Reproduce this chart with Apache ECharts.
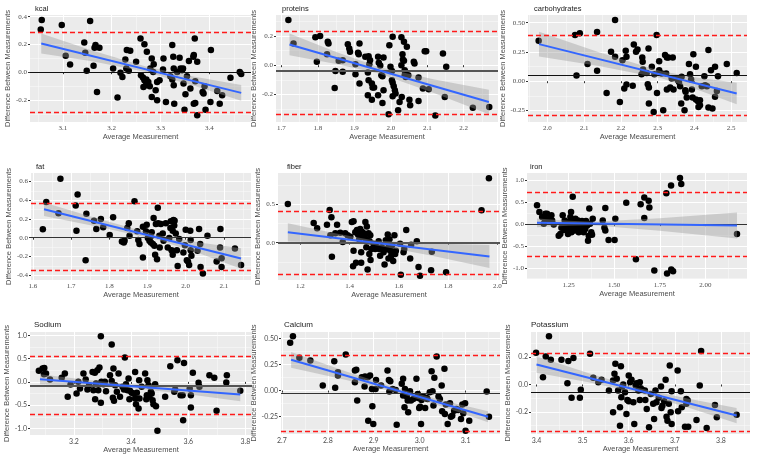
<!DOCTYPE html>
<html>
<head>
<meta charset="utf-8">
<script src="https://cdn.jsdelivr.net/npm/echarts@6/dist/echarts.min.js"></script>
<style>
  html, body { margin: 0; padding: 0; background: #fff; }
  #chart { width: 759px; height: 463px; }
</style>
</head>
<body>
<div id="chart"></div>
<script>
// panel titles
const titles = ['kcal', 'proteins', 'carbohydrates', 'fat', 'fiber', 'iron', 'Sodium', 'Calcium', 'Potassium']

// points: [average, difference]
const kcalPts = [[3.057,0.376],[3.055,0.308],[3.098,0.340],[3.156,0.369],[3.144,0.214],[3.146,0.140],[3.106,0.118],[3.115,0.055],[3.149,0.010],[3.167,0.195],[3.165,0.176],[3.175,0.176],[3.163,0.046],[3.170,-0.142],[3.203,0.027],[3.212,-0.183],[3.218,-0.005],[3.222,-0.034],[3.228,0.092],[3.231,0.159],[3.238,0.154],[3.230,0.027],[3.235,0.010],[3.250,0.075],[3.259,0.243],[3.267,0.202],[3.272,0.147],[3.282,0.099],[3.286,0.058],[3.279,0.027],[3.285,0.002],[3.260,-0.022],[3.264,-0.039],[3.267,-0.058],[3.271,-0.053],[3.275,-0.070],[3.265,-0.106],[3.270,-0.094],[3.278,-0.101],[3.282,-0.178],[3.293,-0.202],[3.290,-0.130],[3.293,-0.070],[3.298,-0.058],[3.305,0.019],[3.306,0.099],[3.311,-0.214],[3.320,-0.029],[3.324,-0.053],[3.324,0.195],[3.326,0.111],[3.327,0.027],[3.327,-0.094],[3.328,-0.227],[3.334,0.002],[3.339,0.104],[3.341,0.027],[3.344,0.014],[3.347,-0.082],[3.346,0.027],[3.351,-0.159],[3.349,-0.270],[3.354,-0.029],[3.358,0.080],[3.361,-0.118],[3.367,0.111],[3.368,0.123],[3.370,0.243],[3.375,0.075],[3.371,-0.065],[3.368,-0.227],[3.371,-0.222],[3.375,-0.311],[3.386,-0.142],[3.390,-0.101],[3.392,-0.270],[3.402,-0.214],[3.403,0.159],[3.416,-0.135],[3.421,-0.227],[3.426,-0.166],[3.443,-0.041],[3.462,0.002],[3.465,-0.014],[3.388,-0.154]]
const proteinsPts = [[1.719,0.307],[1.733,0.148],[1.797,0.023],[1.793,0.189],[1.806,0.198],[1.827,0.159],[1.829,0.148],[1.825,0.075],[1.848,-0.039],[1.857,0.030],[1.868,0.034],[1.868,-0.045],[1.846,-0.155],[1.882,0.143],[1.886,0.114],[1.888,0.091],[1.914,0.148],[1.910,0.084],[1.912,0.075],[1.903,0.007],[1.903,-0.061],[1.914,-0.125],[1.930,0.057],[1.939,0.061],[1.943,0.034],[1.941,0.007],[1.937,-0.050],[1.939,-0.102],[1.948,-0.125],[1.950,-0.152],[1.954,-0.152],[1.937,-0.205],[1.948,-0.234],[1.965,0.057],[1.967,0.016],[1.971,-0.002],[1.980,0.052],[1.974,-0.068],[1.977,-0.075],[1.980,-0.170],[1.977,-0.257],[1.965,-0.205],[1.994,-0.334],[1.996,0.136],[2.005,0.193],[1.999,-0.011],[2.003,-0.039],[2.003,-0.102],[2.005,-0.120],[2.008,-0.143],[2.011,-0.170],[2.005,-0.211],[2.013,-0.193],[2.020,-0.307],[2.024,-0.250],[2.029,0.189],[2.036,0.159],[2.032,0.075],[2.033,0.039],[2.036,0.030],[2.029,0.000],[2.038,-0.034],[2.039,-0.045],[2.038,-0.068],[2.041,-0.080],[2.030,-0.216],[2.044,0.125],[2.048,-0.068],[2.051,-0.234],[2.053,-0.273],[2.063,0.023],[2.065,0.011],[2.076,-0.084],[2.076,-0.243],[2.088,-0.159],[2.093,0.095],[2.097,0.095],[2.104,-0.164],[2.122,-0.341],[2.143,0.080],[2.152,-0.011],[2.148,-0.216],[2.225,-0.289],[2.270,-0.284]]
const carbsPts = [[1.976,0.346],[2.075,0.394],[2.088,0.409],[2.079,0.049],[2.109,0.146],[2.135,0.420],[2.135,0.089],[2.161,-0.100],[2.173,0.251],[2.184,0.523],[2.184,0.209],[2.197,-0.177],[2.204,0.180],[2.209,-0.063],[2.213,0.260],[2.215,0.209],[2.215,-0.029],[2.232,-0.040],[2.235,0.314],[2.241,0.251],[2.245,0.271],[2.256,0.060],[2.258,0.203],[2.259,0.166],[2.260,0.100],[2.270,0.071],[2.275,0.280],[2.273,-0.026],[2.276,-0.054],[2.276,-0.191],[2.284,0.123],[2.289,-0.263],[2.291,0.060],[2.297,0.394],[2.298,-0.100],[2.304,0.171],[2.304,0.094],[2.311,0.066],[2.315,-0.249],[2.320,0.223],[2.323,0.066],[2.325,0.203],[2.325,-0.071],[2.329,0.203],[2.334,-0.054],[2.338,0.023],[2.341,0.203],[2.343,-0.071],[2.352,0.023],[2.355,0.009],[2.358,-0.006],[2.361,-0.043],[2.364,-0.191],[2.365,0.037],[2.373,-0.249],[2.375,-0.077],[2.376,-0.091],[2.379,-0.140],[2.385,0.146],[2.388,0.060],[2.391,0.014],[2.393,-0.071],[2.395,-0.140],[2.397,0.231],[2.404,0.123],[2.404,-0.157],[2.409,-0.169],[2.411,-0.220],[2.415,-0.163],[2.415,-0.206],[2.420,-0.043],[2.427,0.043],[2.429,-0.034],[2.434,-0.043],[2.438,0.266],[2.438,-0.226],[2.445,0.094],[2.449,-0.234],[2.456,0.123],[2.456,-0.134],[2.461,-0.083],[2.464,0.043],[2.488,0.146],[2.515,0.071]]
const fatPts = [[1.626,0.089],[1.635,0.379],[1.667,0.261],[1.672,0.629],[1.712,0.343],[1.717,0.461],[1.714,0.075],[1.740,0.254],[1.738,-0.239],[1.760,0.182],[1.766,0.093],[1.778,0.200],[1.784,0.111],[1.801,0.029],[1.810,0.218],[1.833,-0.039],[1.838,-0.050],[1.840,-0.032],[1.847,0.104],[1.851,0.154],[1.853,0.021],[1.866,0.389],[1.873,0.068],[1.876,-0.025],[1.879,-0.068],[1.888,-0.211],[1.888,0.118],[1.896,0.068],[1.898,0.139],[1.901,-0.004],[1.905,-0.032],[1.908,0.011],[1.909,-0.050],[1.911,0.057],[1.914,-0.068],[1.916,0.211],[1.918,-0.086],[1.920,-0.182],[1.922,0.146],[1.925,-0.229],[1.927,0.318],[1.928,0.154],[1.931,0.021],[1.932,-0.104],[1.935,0.146],[1.940,0.046],[1.942,-0.032],[1.948,0.154],[1.953,-0.104],[1.957,-0.004],[1.960,0.104],[1.961,0.175],[1.963,-0.132],[1.966,-0.182],[1.968,0.189],[1.970,0.129],[1.966,0.075],[1.971,0.182],[1.974,0.046],[1.977,-0.132],[1.979,-0.300],[1.983,-0.014],[1.994,-0.157],[1.998,-0.079],[2.000,0.086],[2.003,-0.239],[2.006,-0.254],[2.009,-0.289],[2.012,0.075],[2.013,-0.132],[2.013,-0.025],[2.015,-0.193],[2.031,-0.139],[2.035,0.093],[2.038,-0.068],[2.039,-0.311],[2.045,-0.382],[2.057,0.021],[2.081,-0.254],[2.091,0.093],[2.090,-0.104],[2.094,-0.218],[2.094,-0.311],[2.129,-0.114],[2.145,-0.289]]
const fiberPts = [[1.149,0.500],[1.254,0.254],[1.268,0.188],[1.308,0.232],[1.319,0.424],[1.326,0.330],[1.328,-0.183],[1.322,0.098],[1.342,0.121],[1.349,0.232],[1.362,0.129],[1.372,0.009],[1.382,0.121],[1.392,0.098],[1.403,0.076],[1.409,0.268],[1.416,0.277],[1.414,-0.304],[1.416,-0.103],[1.423,0.134],[1.430,0.165],[1.426,-0.259],[1.434,0.107],[1.436,0.143],[1.439,0.045],[1.443,0.179],[1.447,-0.125],[1.447,-0.259],[1.450,0.143],[1.453,0.076],[1.457,0.121],[1.461,0.098],[1.464,0.268],[1.466,0.045],[1.468,-0.058],[1.470,0.210],[1.473,-0.348],[1.477,0.121],[1.480,-0.147],[1.481,0.018],[1.484,0.098],[1.485,-0.223],[1.488,-0.080],[1.497,-0.013],[1.504,-0.080],[1.507,-0.045],[1.518,0.018],[1.520,-0.080],[1.524,-0.170],[1.531,-0.058],[1.538,-0.125],[1.542,-0.281],[1.547,0.031],[1.551,-0.080],[1.555,0.107],[1.558,-0.013],[1.558,-0.205],[1.562,0.045],[1.565,-0.103],[1.569,-0.170],[1.572,-0.036],[1.574,-0.116],[1.577,-0.237],[1.582,0.098],[1.585,-0.147],[1.588,-0.103],[1.605,-0.013],[1.608,-0.415],[1.619,-0.125],[1.622,-0.080],[1.630,0.165],[1.646,-0.205],[1.650,-0.027],[1.673,0.018],[1.680,-0.313],[1.686,-0.429],[1.734,-0.116],[1.731,-0.357],[1.792,-0.384],[1.936,0.420],[1.966,0.835]]
const ironPts = [[1.076,0.434],[1.089,0.279],[1.104,0.163],[1.113,0.008],[1.122,0.240],[1.131,0.240],[1.118,0.124],[1.140,0.101],[1.149,0.124],[1.155,0.202],[1.159,0.085],[1.168,-0.008],[1.195,-0.264],[1.204,-0.225],[1.210,-0.085],[1.217,0.202],[1.223,-0.132],[1.228,0.085],[1.235,-0.031],[1.241,-0.147],[1.246,-0.225],[1.250,0.047],[1.254,-0.085],[1.259,0.163],[1.263,0.279],[1.265,-0.186],[1.268,-0.008],[1.272,0.628],[1.274,0.070],[1.277,-0.070],[1.283,-0.147],[1.287,0.124],[1.290,-0.008],[1.296,-0.085],[1.301,0.085],[1.305,-0.186],[1.309,-0.031],[1.314,0.047],[1.320,-0.132],[1.323,0.070],[1.327,-0.031],[1.332,-0.186],[1.338,0.008],[1.341,-0.109],[1.345,0.070],[1.351,-0.031],[1.356,-0.380],[1.360,-0.264],[1.363,0.357],[1.367,0.008],[1.374,-0.186],[1.378,-0.240],[1.382,0.124],[1.437,0.085],[1.446,-0.085],[1.451,-0.147],[1.451,0.372],[1.469,-0.364],[1.502,-0.364],[1.506,0.124],[1.566,0.488],[1.619,-0.806],[1.645,0.457],[1.665,0.612],[1.665,0.140],[1.689,0.535],[1.693,0.380],[1.720,-1.062],[1.786,0.705],[1.790,-1.132],[1.812,0.884],[1.813,-1.039],[1.823,-1.078],[1.861,1.054],[1.868,0.922],[2.174,-0.225]]
const sodiumPts = [[3.077,0.236],[3.090,0.286],[3.096,0.300],[3.102,0.179],[3.095,0.164],[3.116,0.050],[3.157,0.086],[3.168,0.179],[3.178,-0.321],[3.188,-0.057],[3.209,-0.250],[3.215,0.000],[3.221,-0.143],[3.233,0.179],[3.241,0.050],[3.247,-0.164],[3.253,-0.071],[3.265,0.214],[3.268,-0.179],[3.273,0.193],[3.277,-0.036],[3.282,0.250],[3.285,-0.179],[3.289,0.307],[3.274,-0.371],[3.294,0.979],[3.294,-0.450],[3.296,0.000],[3.303,-0.050],[3.308,0.000],[3.312,-0.200],[3.326,0.143],[3.332,0.800],[3.332,0.021],[3.336,-0.343],[3.338,0.286],[3.340,-0.407],[3.344,-0.071],[3.350,-0.214],[3.356,0.179],[3.361,-0.321],[3.370,-0.107],[3.375,-0.164],[3.378,0.521],[3.382,-0.050],[3.387,-0.179],[3.391,0.071],[3.394,-0.371],[3.396,-0.193],[3.402,-0.236],[3.408,-0.250],[3.414,0.214],[3.414,-0.357],[3.417,-0.479],[3.420,-0.236],[3.426,-0.571],[3.428,0.036],[3.429,-0.357],[3.437,-0.107],[3.449,0.179],[3.453,-0.371],[3.455,-0.286],[3.457,0.036],[3.461,-0.071],[3.464,-0.321],[3.469,-0.214],[3.472,-0.250],[3.475,-0.393],[3.478,-0.479],[3.484,-0.050],[3.487,-0.521],[3.492,-1.050],[3.519,-0.321],[3.537,0.336],[3.551,-0.214],[3.554,-0.164],[3.562,0.464],[3.573,-0.286],[3.580,-0.286],[3.582,-0.821],[3.585,0.407],[3.605,-0.143],[3.609,-0.286],[3.609,-0.550],[3.616,0.193],[3.636,-0.021],[3.639,-0.107],[3.674,0.143],[3.691,0.086],[3.699,-0.621],[3.733,-0.014],[3.735,0.143],[3.782,-0.193]]
const calciumPts = [[2.718,0.461],[2.724,0.523],[2.738,0.316],[2.762,0.290],[2.789,0.048],[2.814,0.284],[2.816,0.026],[2.822,0.177],[2.822,0.145],[2.839,0.348],[2.859,0.194],[2.862,0.200],[2.859,0.081],[2.864,-0.097],[2.874,0.129],[2.880,0.039],[2.881,0.135],[2.887,0.129],[2.892,0.145],[2.888,-0.290],[2.896,0.016],[2.897,-0.152],[2.899,-0.323],[2.904,0.016],[2.905,0.103],[2.916,0.048],[2.930,0.194],[2.933,0.103],[2.934,-0.010],[2.936,0.090],[2.941,0.016],[2.948,0.006],[2.950,-0.329],[2.961,0.065],[2.964,0.113],[2.964,-0.048],[2.967,-0.161],[2.968,0.016],[2.972,-0.058],[2.974,-0.097],[2.975,-0.210],[2.979,-0.006],[2.981,-0.097],[2.986,-0.081],[2.993,0.113],[2.996,-0.032],[2.997,-0.071],[2.999,-0.168],[3.001,-0.155],[3.003,-0.323],[3.004,-0.090],[3.006,-0.058],[3.010,-0.065],[3.012,-0.168],[3.015,-0.071],[3.017,-0.081],[3.022,-0.016],[3.026,0.187],[3.028,-0.006],[3.030,-0.145],[3.032,0.123],[3.037,0.329],[3.041,-0.058],[3.044,-0.081],[3.048,0.048],[3.049,-0.200],[3.054,0.210],[3.055,-0.226],[3.057,-0.135],[3.061,-0.323],[3.066,-0.123],[3.068,-0.252],[3.071,-0.242],[3.075,-0.194],[3.080,-0.177],[3.084,-0.187],[3.090,-0.274],[3.093,-0.135],[3.095,-0.219],[3.099,-0.123],[3.100,-0.387],[3.108,-0.290],[3.146,-0.010],[3.151,-0.252]]
const potassiumPts = [[3.399,0.233],[3.414,0.054],[3.420,0.206],[3.427,0.353],[3.431,0.182],[3.454,0.182],[3.467,0.010],[3.469,0.172],[3.480,0.194],[3.476,-0.098],[3.494,-0.098],[3.496,-0.039],[3.516,0.226],[3.523,0.049],[3.534,0.017],[3.541,0.034],[3.557,-0.044],[3.566,-0.204],[3.566,0.029],[3.569,0.079],[3.571,0.152],[3.574,0.042],[3.577,-0.044],[3.581,-0.167],[3.581,-0.302],[3.583,0.133],[3.584,-0.093],[3.586,-0.015],[3.588,0.000],[3.592,-0.056],[3.595,-0.216],[3.597,-0.113],[3.600,0.066],[3.600,-0.123],[3.603,0.017],[3.606,0.034],[3.610,-0.130],[3.612,-0.290],[3.615,-0.007],[3.617,0.010],[3.621,-0.044],[3.624,0.017],[3.624,-0.113],[3.626,-0.027],[3.629,-0.039],[3.635,-0.044],[3.636,-0.113],[3.639,-0.179],[3.644,-0.314],[3.648,-0.069],[3.653,-0.142],[3.655,-0.253],[3.658,-0.044],[3.660,-0.130],[3.665,-0.098],[3.670,-0.015],[3.671,-0.172],[3.673,-0.155],[3.677,-0.123],[3.680,0.034],[3.682,-0.236],[3.684,-0.265],[3.687,-0.142],[3.689,0.140],[3.691,-0.204],[3.693,-0.049],[3.693,-0.290],[3.706,0.103],[3.707,-0.196],[3.713,-0.049],[3.715,-0.167],[3.722,-0.309],[3.725,-0.106],[3.728,-0.118],[3.725,-0.142],[3.729,-0.309],[3.747,-0.260],[3.754,-0.007],[3.757,0.245],[3.769,-0.319],[3.787,-0.150],[3.791,-0.240],[3.834,-0.221]]

// mean difference and limits of agreement
const meanDiff = [0.0, -0.045, 0.049, 0.0, 0.0, 0.0, -0.086, -0.026, -0.056]
const upperLoA = [0.289, 0.234, 0.386, 0.368, 0.406, 0.729, 0.536, 0.339, 0.226]
const lowerLoA = [-0.292, -0.330, -0.286, -0.354, -0.415, -0.729, -0.700, -0.394, -0.344]

// fitted line (lm) and its confidence band
const fitX = [[3.056, 3.465], [1.722, 2.269], [1.977, 2.515], [1.629, 2.145], [1.149, 1.968], [1.076, 2.174], [3.081, 3.782], [2.720, 3.149], [3.400, 3.834]]
const fitY = [[0.207, -0.149], [0.141, -0.250], [0.317, -0.106], [0.304, -0.221], [0.134, -0.179], [0.031, -0.031], [0.057, -0.271], [0.297, -0.252], [0.147, -0.228]]
const bandX = [
  [3.056, 3.16, 3.27, 3.37, 3.465], [1.722, 1.85, 1.97, 2.12, 2.269], [1.977, 2.14, 2.31, 2.41, 2.515],
  [1.629, 1.78, 1.93, 2.04, 2.145], [1.149, 1.33, 1.5, 1.73, 1.968], [1.076, 1.25, 1.38, 1.75, 2.174],
  [3.081, 3.24, 3.4, 3.6, 3.782], [2.72, 2.84, 2.96, 3.06, 3.149], [3.4, 3.51, 3.62, 3.73, 3.834]
]
const bandLo = [
  [0.135, 0.078, 0.001, -0.099, -0.206], [0.067, 0.008, -0.058, -0.190, -0.333], [0.212, 0.130, 0.025, -0.075, -0.198],
  [0.232, 0.108, -0.027, -0.174, -0.331], [0.016, 0.002, -0.030, -0.166, -0.329], [-0.069, -0.035, -0.026, -0.151, -0.331],
  [-0.051, -0.081, -0.132, -0.268, -0.414], [0.221, 0.101, -0.030, -0.171, -0.305], [0.086, 0.018, -0.061, -0.171, -0.284]
]
const bandHi = [
  [0.279, 0.156, 0.041, -0.033, -0.092], [0.215, 0.090, -0.014, -0.098, -0.167], [0.422, 0.248, 0.085, 0.029, -0.014],
  [0.376, 0.192, 0.023, -0.054, -0.111], [0.252, 0.128, 0.030, -0.010, -0.029], [0.131, 0.077, 0.054, 0.137, 0.269],
  [0.165, 0.047, -0.052, -0.104, -0.128], [0.373, 0.185, 0.010, -0.105, -0.199], [0.208, 0.086, -0.025, -0.105, -0.172]
]

// axis limits and tick values
const xLim = [[3.033, 3.485], [1.685, 2.294], [1.947, 2.543], [1.595, 2.171], [1.109, 2.011], [1.021, 2.229], [3.046, 3.823], [2.698, 3.175], [3.388, 3.863]]
const yLim = [[-0.359, 0.412], [-0.386, 0.341], [-0.349, 0.566], [-0.45, 0.689], [-0.483, 0.903], [-1.256, 1.171], [-1.14, 1.07], [-0.419, 0.565], [-0.363, 0.385]]
const xTicks = [[3.1, 3.2, 3.3, 3.4], [1.7, 1.8, 1.9, 2.0, 2.1, 2.2], [2.0, 2.1, 2.2, 2.3, 2.4, 2.5], [1.6, 1.7, 1.8, 1.9, 2.0, 2.1], [1.2, 1.4, 1.6, 1.8, 2.0], [1.25, 1.5, 1.75, 2.0], [3.2, 3.4, 3.6, 3.8], [2.7, 2.8, 2.9, 3.0, 3.1], [3.4, 3.5, 3.6, 3.7, 3.8]]
const yTicks = [[-0.2, 0.0, 0.2, 0.4], [-0.2, 0.0, 0.2], [-0.25, 0.0, 0.25, 0.5], [-0.4, -0.2, 0.0, 0.2, 0.4, 0.6], [-0.5, 0.0, 0.5], [-1.0, -0.5, 0.0, 0.5, 1.0], [-1.0, -0.5, 0.0, 0.5, 1.0], [-0.25, 0.0, 0.25, 0.5], [-0.2, 0.0, 0.2]]
const xDec = [1, 1, 1, 1, 1, 2, 1, 1, 1]
const yDec = [1, 1, 2, 1, 1, 1, 1, 2, 1]

// layout: [left, top, width, height] of each panel, title position
const layout = [
  [30, 15, 221, 107], [276, 15, 222, 107], [528, 15, 219, 107],
  [31, 173, 220, 107], [278, 173, 222, 107], [527, 173, 220, 106],
  [30, 332, 222, 103], [281, 332, 219, 102], [531, 332, 219, 102]
]
const titlePos = [[30, 0], [277, 0], [529, 0], [31, 158], [282, 158], [525, 158], [29, 316], [279, 316], [526, 316]]
const meanStyle = [['#111', 1.2], ['#555', 2.2], ['#111', 1.2], ['#333', 1.2], ['#555', 2.2], ['#333', 1.2], ['#555', 2.2], ['#333', 1.2], ['#111', 1.2]]

const allPts = [kcalPts, proteinsPts, carbsPts, fatPts, fiberPts, ironPts, sodiumPts, calciumPts, potassiumPts]

function minorOf(ticks) {
  const step = ticks[1] - ticks[0]
  const out = [ticks[0] - step / 2]
  ticks.forEach(t => out.push(t + step / 2))
  return out
}

const grids = []
const xAxes = []
const yAxes = []
const series = []
const titleList = []

titles.forEach((name, i) => {
  const g = layout[i]
  const row3 = i >= 6
  const tickFont = row3 ? 'Lato' : 'Liberation Serif'
  const labelStyle = { fontSize: 7, color: '#4d4d4d', fontFamily: tickFont }
  const nameStyle = { fontSize: 7.5, color: '#4d4d4d', fontFamily: 'Liberation Sans' }

  grids.push({ left: g[0], top: g[1], width: g[2], height: g[3], show: true, backgroundColor: '#EBEBEB', borderWidth: 0 })
  titleList.push({ text: name, left: titlePos[i][0], top: titlePos[i][1], textStyle: { fontSize: row3 ? 8 : 7.5, fontWeight: 'normal', color: '#222', fontFamily: 'Liberation Sans' } })

  // major axes
  xAxes.push({
    gridIndex: i, type: 'value', min: xLim[i][0], max: xLim[i][1],
    name: 'Average Measurement', nameLocation: 'middle', nameGap: 11, nameMoveOverlap: false, nameTextStyle: nameStyle,
    axisLine: { show: false },
    axisTick: { show: true, length: 2, lineStyle: { color: '#333' }, customValues: xTicks[i] },
    axisLabel: { customValues: xTicks[i], formatter: v => v.toFixed(xDec[i]), margin: 3, ...labelStyle },
    splitLine: { show: true, lineStyle: { color: '#fff', width: 1 } }
  })
  yAxes.push({
    gridIndex: i, type: 'value', min: yLim[i][0], max: yLim[i][1],
    name: 'Difference Between Measurements', nameLocation: 'middle', nameGap: 5, nameTextStyle: nameStyle,
    axisLine: { show: false },
    axisTick: { show: true, length: 2, lineStyle: { color: '#333' }, customValues: yTicks[i] },
    axisLabel: { customValues: yTicks[i], formatter: v => v.toFixed(yDec[i]), margin: 3, ...labelStyle },
    splitLine: { show: true, lineStyle: { color: '#fff', width: 1 } }
  })
  // minor grid lines
  xAxes.push({
    gridIndex: i, type: 'value', min: xLim[i][0], max: xLim[i][1],
    axisLine: { show: false }, axisTick: { show: false, customValues: minorOf(xTicks[i]) },
    axisLabel: { show: false, customValues: minorOf(xTicks[i]) },
    splitLine: { show: true, lineStyle: { color: '#fafafa', width: 0.5 } }
  })
  yAxes.push({
    gridIndex: i, type: 'value', min: yLim[i][0], max: yLim[i][1],
    axisLine: { show: false }, axisTick: { show: false, customValues: minorOf(yTicks[i]) },
    axisLabel: { show: false, customValues: minorOf(yTicks[i]) },
    splitLine: { show: true, lineStyle: { color: '#fafafa', width: 0.5 } }
  })

  const ax = 2 * i
  series.push({
    type: 'scatter', xAxisIndex: ax, yAxisIndex: ax, data: allPts[i],
    symbolSize: 6.5, itemStyle: { color: '#000', opacity: 1 }, z: 2, silent: true
  })
  const bx = bandX[i], lo = bandLo[i], hi = bandHi[i]
  series.push({
    type: 'custom', xAxisIndex: ax, yAxisIndex: ax, z: 3, silent: true,
    data: [[bx[0], hi[0]]],
    renderItem: (params, api) => {
      const pts = []
      for (let k = 0; k < bx.length; k++) pts.push(api.coord([bx[k], hi[k]]))
      for (let k = bx.length - 1; k >= 0; k--) pts.push(api.coord([bx[k], lo[k]]))
      return { type: 'polygon', shape: { points: pts, smooth: 0 }, style: { fill: 'rgba(153,153,153,0.4)' } }
    }
  })
  series.push({
    type: 'line', xAxisIndex: ax, yAxisIndex: ax, data: [], z: 4, silent: true,
    markLine: {
      symbol: 'none', silent: true, label: { show: false }, animation: false,
      data: [
        { yAxis: meanDiff[i], lineStyle: { color: meanStyle[i][0], width: meanStyle[i][1], type: 'solid' } },
        { yAxis: upperLoA[i], lineStyle: { color: '#ff1a1a', width: 1.3, type: [5, 3] } },
        { yAxis: lowerLoA[i], lineStyle: { color: '#ff1a1a', width: 1.3, type: [5, 3] } }
      ]
    }
  })
  series.push({
    type: 'line', xAxisIndex: ax, yAxisIndex: ax, z: 5, silent: true,
    data: [[fitX[i][0], fitY[i][0]], [fitX[i][1], fitY[i][1]]],
    showSymbol: false, lineStyle: { color: '#3366FF', width: 2 }
  })
})

const myChart = echarts.init(document.getElementById('chart'))
myChart.setOption({
  animation: false,
  title: titleList,
  grid: grids,
  xAxis: xAxes,
  yAxis: yAxes,
  series: series
})
</script>
</body>
</html>
